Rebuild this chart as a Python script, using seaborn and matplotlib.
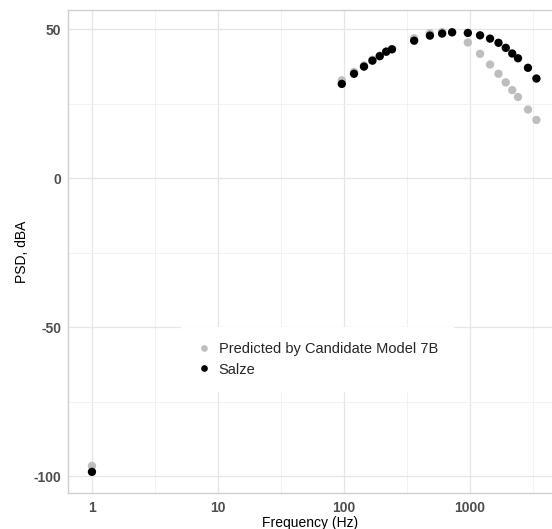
import matplotlib
matplotlib.use("Agg")
import matplotlib.pyplot as plt
import matplotlib.ticker as mticker
import seaborn as sns
import pandas as pd
import numpy as np

# data
freq = [1, 96, 120, 144, 168, 192, 216, 240, 360, 480, 600, 720, 960,
        1200, 1440, 1680, 1920, 2160, 2400, 2880, 3360]
salze = [-98.6, 31.6, 35.0, 37.4, 39.4, 40.9, 42.4, 43.2, 46.1, 47.8, 48.5,
         48.9, 48.7, 47.9, 46.8, 45.4, 43.7, 41.8, 40.2, 37.0, 33.4]
predicted = [-96.6, 32.8, 35.6, 37.8, 39.7, 41.1, 42.5, 43.3, 46.9, 48.6, 49.0,
             49.0, 45.5, 41.7, 38.1, 35.0, 32.1, 29.5, 27.2, 23.0, 19.5]
series_names = ["Predicted by Candidate Model 7B", "Salze"]
y_ticks = [-100, -50, 0, 50]
x_ticks = [1, 10, 100, 1000]

df = pd.concat([
    pd.DataFrame({"freq": freq, "psd": predicted, "source": series_names[0]}),
    pd.DataFrame({"freq": freq, "psd": salze, "source": series_names[1]}),
])

sns.set_theme(style="white")
plt.rcParams['font.family'] = ['Liberation Sans', 'DejaVu Sans']
plt.rcParams['axes.unicode_minus'] = False

fig = plt.figure(figsize=(5.52, 5.29), dpi=100)
ax = fig.add_axes([68 / 552, 1 - 493 / 529, 1 - 68 / 552, (493 - 10) / 529])

sns.scatterplot(data=df, x="freq", y="psd", hue="source",
                palette={series_names[0]: "#bebebe", series_names[1]: "black"},
                s=36, edgecolor="none", ax=ax, zorder=3)

ax.set_xscale("log")
ax.set_xlim(10 ** -0.19, 10 ** 3.65)
ax.set_ylim(-105.7, 56.4)

ax.xaxis.set_major_locator(mticker.FixedLocator(x_ticks))
ax.xaxis.set_minor_locator(mticker.FixedLocator([10 ** (k + 0.5) for k in range(-1, 4)]))
ax.xaxis.set_major_formatter(mticker.FixedFormatter([str(t) for t in x_ticks]))
ax.xaxis.set_minor_formatter(mticker.NullFormatter())
ax.yaxis.set_major_locator(mticker.FixedLocator(y_ticks))
ax.yaxis.set_minor_locator(mticker.FixedLocator([-75, -25, 25]))

ax.grid(which="major", color="#e6e6e6", linewidth=0.9)
ax.grid(which="minor", color="#f0f0f0", linewidth=0.6)
ax.set_axisbelow(True)

for side in ["left", "bottom", "top"]:
    ax.spines[side].set_color("#d0d0d0")
    ax.spines[side].set_linewidth(1.0)
ax.spines["right"].set_visible(False)

ax.tick_params(axis="both", which="major", length=3, width=0.8, color="#c8c8c8",
               labelsize=10, labelcolor="#4d4d4d", pad=2)
ax.tick_params(axis="both", which="minor", length=0)
ax.tick_params(axis="x", which="major", length=0, pad=6)
ax.tick_params(axis="x", which="minor", bottom=False)
for lbl in ax.get_xticklabels() + ax.get_yticklabels():
    lbl.set_fontweight("bold")

ax.set_xlabel("Frequency (Hz)", fontsize=10, color="black")
ax.xaxis.set_label_coords(0.5, -(516 - 493) / 483)
ax.set_ylabel("PSD, dBA", fontsize=10, color="black")
ax.yaxis.set_label_coords((29 - 68) / 484, 0.5)

leg = ax.legend(title=None, loc="upper left", bbox_to_anchor=(0.218, 0.358),
                frameon=True, fontsize=10.5, markerscale=0.8, handletextpad=0.4,
                borderpad=1.0, labelspacing=0.45, handlelength=1.2)
leg.get_frame().set_facecolor("white")
leg.get_frame().set_edgecolor("white")
leg.get_frame().set_alpha(1.0)
leg.get_frame().set_boxstyle("square", pad=0)

fig.savefig("out.png", dpi=100)
